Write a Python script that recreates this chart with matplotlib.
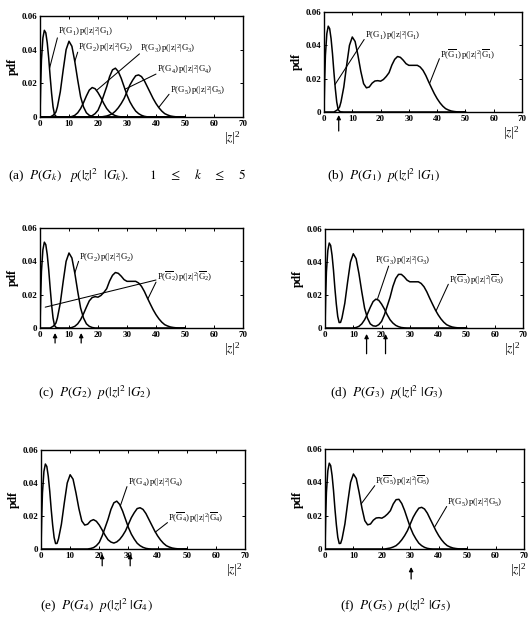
import numpy as np
import matplotlib.pyplot as plt

plt.rcParams['font.family'] = ['Liberation Serif', 'DejaVu Serif']
plt.rcParams['mathtext.fontset'] = 'stix'
plt.rcParams['mathtext.default'] = 'regular'

# sample positions on the |z|^2 axis
z2 = [0, 0.25, 0.5, 1, 1.5, 2, 2.5, 3, 3.5, 4, 4.5, 5, 5.5, 6] + list(range(7, 51))

# P(G_k) p(|z|^2 | G_k)
g1 = [0, 0.02, 0.034, 0.047, 0.0515, 0.050, 0.044, 0.035, 0.024, 0.014,
      0.006, 0.0015, 0.0004, 0.0001] + [0] * 44
g2 = [0] * 9 + [0.0005, 0.001, 0.0018, 0.003, 0.006,
                0.015, 0.028, 0.040, 0.045, 0.042, 0.033, 0.022, 0.012, 0.006,
                0.0025, 0.001, 0.0003] + [0] * 32
g3 = [0] * 18 + [0.0003, 0.001, 0.0025, 0.005, 0.0085, 0.0125, 0.016, 0.0175,
                 0.0168, 0.0145, 0.0115, 0.008, 0.005, 0.003, 0.0016, 0.0008,
                 0.0003, 0.0001] + [0] * 22
g4 = [0] * 24 + [0.0003, 0.0008, 0.002, 0.004, 0.008, 0.013, 0.018, 0.024,
                 0.028, 0.029, 0.027, 0.023, 0.018, 0.013, 0.009, 0.006,
                 0.0035, 0.002, 0.001, 0.0004, 0.0001] + [0] * 13
g5 = [0] * 29 + [0.0003, 0.0006, 0.0012, 0.002, 0.0035, 0.0055, 0.008, 0.011,
                 0.015, 0.019, 0.022, 0.0245, 0.025, 0.024, 0.0215, 0.018,
                 0.0145, 0.011, 0.008, 0.0055, 0.0035, 0.002, 0.0012, 0.0006,
                 0.0003, 0.0001] + [0] * 3

xticks = [0, 10, 20, 30, 40, 50, 60, 70]
yticks = [0, 0.02, 0.04, 0.06]
ytick_labels = ['0', '0.02', '0.04', '0.06']

# decision thresholds marked with arrows under panels (b)-(f)
thresholds = [[5.2], [5.2, 14.2], [14.7, 21.4], [21.0, 30.6], [30.3]]

captions = [
    r"(a)  $\mathit{P(G_k)\ \ \ p(|z|^2\ \ |G_k).\qquad 1\ \ \ \ \leq\ \ \ \ k\ \ \ \ \leq\ \ \ \ 5}$",
    r"(b)  $\mathit{P(G_1)\ \ p(|z|^2\ |G_1)}$",
    r"(c)  $\mathit{P(G_2)\ \ p(|z|^2\ |G_2)}$",
    r"(d)  $\mathit{P(G_3)\ \ p(|z|^2\ |G_3)}$",
    r"(e)  $\mathit{P(G_4)\ \ p(|z|^2\ |G_4)}$",
    r"(f)  $\mathit{P(G_5)\ \ p(|z|^2\ |G_5)}$",
]

comps = np.array([g1, g2, g3, g4, g5])
total = comps.sum(axis=0)

lab = r"$P(G_%d)\,p(|z|^2|G_%d)$"
labbar = r"$P(\overline{G}_%d)\,p(|z|^2|\overline{G}_%d)$"

# text position, then leader lines (start, end)
notes = [
    [(lab % (1, 1), 6.2, 0.0505, [((6.0, 0.047), (3.3, 0.029))]),
     (lab % (2, 2), 13.1, 0.041, [((13.0, 0.0385), (12.0, 0.033))]),
     (lab % (3, 3), 34.5, 0.0405, [((34.3, 0.0375), (19.5, 0.0158))]),
     (lab % (4, 4), 40.3, 0.028, [((40.0, 0.0255), (29.3, 0.0165))]),
     (lab % (5, 5), 44.8, 0.0158, [((44.5, 0.0135), (41.0, 0.0058))])],
    [(lab % (1, 1), 14.5, 0.046, [((14.2, 0.0435), (3.9, 0.0165))]),
     (labbar % (1, 1), 41.0, 0.0345, [((40.8, 0.032), (37.3, 0.017))])],
    [(lab % (2, 2), 13.4, 0.0425, [((13.3, 0.040), (12.0, 0.033))]),
     (labbar % (2, 2), 40.3, 0.0305, [((40.0, 0.0288), (1.8, 0.0125)),
                                      ((40.0, 0.0275), (37.2, 0.0175))])],
    [(lab % (3, 3), 17.7, 0.041, [((22.5, 0.0375), (18.6, 0.0178))]),
     (labbar % (3, 3), 44.0, 0.029, [((43.6, 0.0265), (39.3, 0.0105))])],
    [(lab % (4, 4), 29.9, 0.0405, [((29.5, 0.0378), (27.2, 0.026))]),
     (labbar % (4, 4), 43.7, 0.0188, [((43.4, 0.016), (39.2, 0.0102))])],
    [(labbar % (5, 5), 17.6, 0.0406, [((17.5, 0.038), (12.7, 0.027))]),
     (lab % (5, 5), 43.0, 0.028, [((42.8, 0.0255), (38.5, 0.013))])],
]

W, H = 529, 628
# axes boxes in pixels: left, right, top, bottom
boxes = [(40, 243, 16, 117), (324, 522, 12, 112),
         (40, 243, 228, 328), (325, 523, 229, 328),
         (41, 245, 450, 549), (325, 524, 449, 549)]
arrow_y = [None, (-0.03, -0.19), (-0.05, -0.15), (-0.06, -0.26),
           (-0.05, -0.17), (-0.18, -0.30)]
caption_pos = [(8, 176), (327, 176), (38, 393), (330, 393), (40, 606), (340, 606)]
zlabel_x = [0.905, 0.905, 0.905, 0.905, 0.905, 0.93]

fig = plt.figure(figsize=(W / 100, H / 100), dpi=100)

for i, (l, r, t, b) in enumerate(boxes):
    ax = fig.add_axes([l / W, 1 - b / H, (r - l) / W, (b - t) / H])
    if i == 0:
        for c in comps:
            ax.plot(z2, c, color='k', lw=1.1)
    else:
        k = i - 1
        ax.plot(z2, comps[k], color='k', lw=1.1)
        ax.plot(z2, total - comps[k], color='k', lw=1.1)
        tip, tail = arrow_y[i]
        for th in thresholds[k]:
            ax.annotate('', xy=(th, tip), xytext=(th, tail),
                        xycoords=ax.get_xaxis_transform(),
                        textcoords=ax.get_xaxis_transform(),
                        arrowprops=dict(arrowstyle='-|>', color='k', lw=0.9,
                                        mutation_scale=6, shrinkA=0, shrinkB=0),
                        annotation_clip=False)

    for txt, tx, ty, leaders in notes[i]:
        ax.text(tx, ty, txt, fontsize=6.3, ha='left', va='center')
        for (x0, y0), (x1, y1) in leaders:
            ax.annotate('', xy=(x1, y1), xytext=(x0, y0),
                        arrowprops=dict(arrowstyle='-', color='k', lw=0.75,
                                        shrinkA=0, shrinkB=0))

    ax.set_xlim(0, 70)
    ax.set_ylim(0, 0.06)
    ax.set_xticks(xticks)
    ax.set_xticklabels([str(v) for v in xticks], fontsize=6.5, fontweight='bold')
    ax.set_yticks(yticks)
    ax.set_yticklabels(ytick_labels, fontsize=6.5, fontweight='bold')
    ax.tick_params(direction='in', top=True, right=True, length=2.5, width=0.7, pad=2)
    for s in ax.spines.values():
        s.set_linewidth(1.0)
    ax.set_ylabel('pdf', fontsize=8.5, fontweight='bold', labelpad=2)
    ax.text(zlabel_x[i], -0.21, r"$|\mathit{z}|^2$", transform=ax.transAxes,
            fontsize=9.5, ha='left', va='center')

for (cx, cy), cap in zip(caption_pos, captions):
    fig.text(cx / W, 1 - cy / H, cap, fontsize=9.5, ha='left', va='center')

fig.savefig('out.png', dpi=100)
